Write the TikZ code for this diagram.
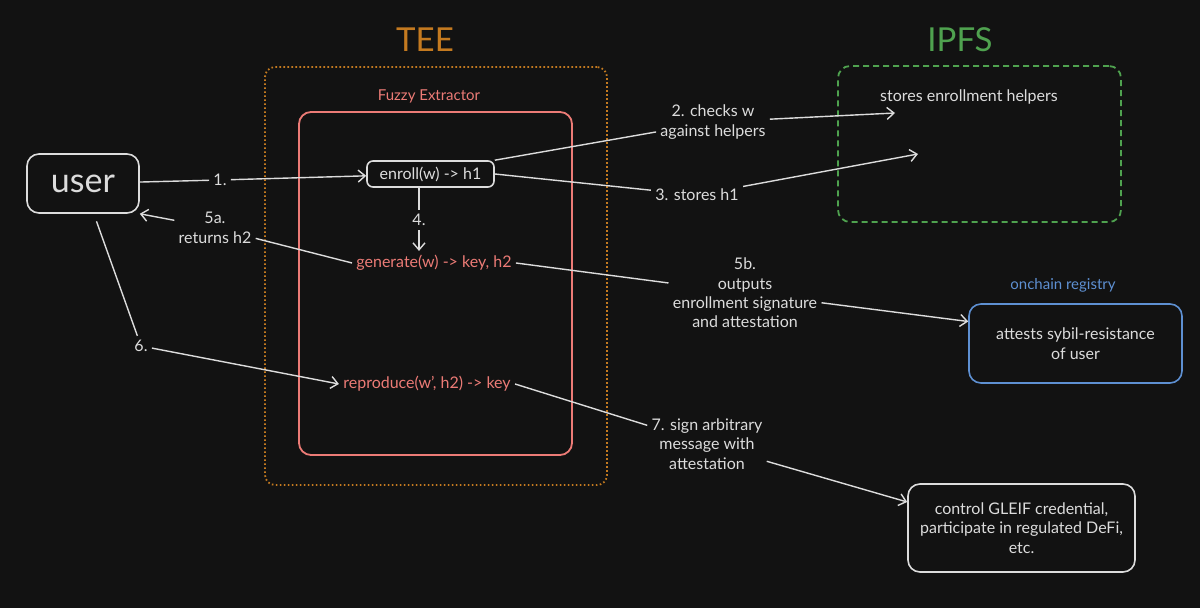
\documentclass[tikz,border=0pt]{standalone}
\usepackage{fontspec}
\setmainfont{Lato}
\usetikzlibrary{arrows.meta}
\definecolor{bg}{HTML}{121212}
\definecolor{fg}{HTML}{DCDCDC}
\definecolor{teeor}{HTML}{C47A20}
\definecolor{salmon}{HTML}{EC7B76}
\definecolor{ipfsg}{HTML}{4FA24F}
\definecolor{chainb}{HTML}{5E90D2}
\begin{document}
\begin{tikzpicture}[x=0.5pt,y=-0.5pt,
  lbl/.style={text=fg,font=\fontsize{8}{9.7}\selectfont,align=center,inner sep=2pt},
  redtxt/.style={text=salmon,font=\fontsize{8}{9.7}\selectfont,inner sep=2pt},
  title/.style={font=\fontsize{16.5}{18}\selectfont},
  box/.style={draw=fg,line width=0.8pt,rounded corners=5pt,text=fg,align=center,font=\fontsize{8}{9.7}\selectfont},
  conn/.style={draw=fg,line width=0.7pt},
  arr/.style={conn,-{Straight Barb[length=3.5pt,width=6pt,line width=0.7pt]}}]
\fill[bg] (0,0) rectangle (1200,608);
\useasboundingbox (0,0) rectangle (1200,608);
% containers
\node[title,text=teeor] (teet) at (425,40) {TEE};
\node[draw=teeor,line width=0.9pt,dash pattern=on 0.8pt off 1.2pt,rounded corners=5pt,minimum width=171pt,minimum height=209pt] (tee) at (436,276) {};
\node[text=salmon,font=\fontsize{7.5}{9}\selectfont] (fzt) at (429,96) {Fuzzy Extractor};
\node[draw=salmon,line width=0.9pt,rounded corners=6pt,minimum width=136.5pt,minimum height=171.5pt] (fz) at (435.5,283.5) {};
\node[title,text=ipfsg] (ipfst) at (960,40) {IPFS};
\node[draw=ipfsg,line width=0.9pt,dash pattern=on 3pt off 2pt,rounded corners=6pt,minimum width=141.5pt,minimum height=78pt] (ipfs) at (979.5,144) {};
\node[lbl] (helpers) at (969,97) {stores enrollment helpers};
\node[text=chainb,font=\fontsize{7.5}{9}\selectfont] (chaint) at (1063,285) {onchain registry};
% main nodes
\node[box,minimum width=56pt,minimum height=29.5pt,rounded corners=6pt,font=\fontsize{17}{20}\selectfont] (user) at (83,183.5) {user};
\node[box,minimum width=63.5pt,minimum height=13pt,inner sep=1pt,rounded corners=3pt] (enroll) at (430.5,174) {enroll(w) -> h1};
\node[redtxt] (gen) at (434,263) {generate(w) -> key, h2};
\node[redtxt] (rep) at (427,384) {reproduce(w', h2) -> key};
\node[box,draw=chainb,minimum width=106.5pt,minimum height=39.5pt,rounded corners=6pt] (chain) at (1075.5,343.5) {attests sybil-resistance\\of user};
\node[box,minimum width=113.5pt,minimum height=44pt,rounded corners=6pt] (gleif) at (1021.5,528) {control GLEIF credential,\\participate in regulated DeFi,\\etc.};
% labels
\node[lbl] (l1) at (220,180) {1.};
\node[lbl] (l2) at (713,122) {2. checks w\\against helpers};
\node[lbl] (l3) at (697,195) {3. stores h1};
\node[lbl] (l4) at (419,220) {4.};
\node[lbl] (l5a) at (215,228) {5a.\\returns h2};
\node[lbl] (l5b) at (745,293) {5b.\\outputs\\enrollment signature\\and attestation};
\node[lbl] (l6) at (141,346) {6.};
\node[lbl] (l7) at (707,444) {7. sign arbitrary\\message with\\attestation};
\coordinate (c2) at (895,113);
\coordinate (c3) at (918,154);
% connectors
\draw[conn] (user) -- (l1);
\draw[arr] (l1) -- (enroll);
\draw[conn] (enroll.north east) -- (l2);
\draw[arr] (l2) -- (c2);
\draw[conn] (enroll.east) -- (l3);
\draw[arr] (l3) -- (c3);
\draw[conn] (l4 |- enroll.south) -- (l4);
\draw[arr] (l4) -- (l4 |- gen.north);
\draw[conn] (gen.west) -- (l5a);
\draw[arr] (l5a) -- (user.south east);
\draw[conn] (gen.east) -- (l5b);
\draw[arr] (l5b) -- ([yshift=11pt]chain.west);
\draw[conn,shorten <=4pt] (user) -- (l6);
\draw[arr] (l6) -- (rep.west);
\draw[conn] (rep.east) -- (l7);
\draw[arr] (l7) -- ([yshift=13pt]gleif.west);
\end{tikzpicture}
\end{document}
